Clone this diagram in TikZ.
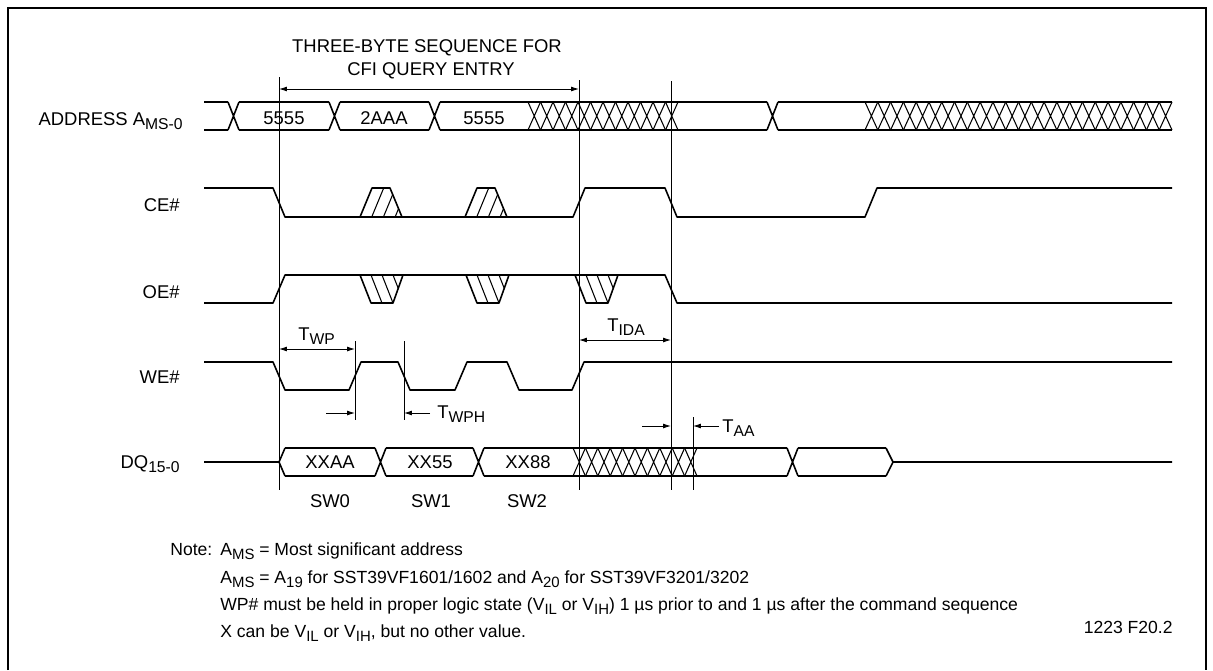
\documentclass[tikz,border=0pt]{standalone}
\usepackage{fontspec}
\usepackage{graphicx}
\setmainfont{Liberation Sans}
\usetikzlibrary{arrows.meta}
% lowered, smaller index text
\def\dn#1{\raisebox{-0.45ex}{\scalebox{0.85}{#1}}}
% flat part of a bus, from #1 to #2, row centre #3
\def\busflat(#1:#2,#3){\draw[sig] (#1,#3-14) -- (#2,#3-14) (#1,#3+14) -- (#2,#3+14);}
% bus change, starting at #1
\def\busx(#1,#2){\draw[sig] (#1,#2-14) -- (#1+11,#2+14) (#1,#2+14) -- (#1+11,#2-14);}
% don't care region from #1 to #2 with #4 crossings
\def\busdc(#1:#2,#3:#4){\busflat(#1:#2,#3)
  \pgfmathsetmacro\hp{(#2-#1)/#4}
  \foreach \k in {1,...,#4}{\draw[hatch] (#1+\k*\hp-\hp,#3-14) -- (#1+\k*\hp,#3+14) (#1+\k*\hp-\hp,#3+14) -- (#1+\k*\hp,#3-14);}}
% CE# may go high
\def\ceup(#1){\begin{scope}\clip (#1,217) -- (#1+12,188) -- (#1+30,188) -- (#1+42,217) -- cycle;
  \foreach \s in {11.7,23.4,35.1}{\draw[hatch] (#1+\s,217) -- (#1+\s+12,188);}\end{scope}
  \draw[sig] (#1,217) -- (#1+12,188) -- (#1+30,188) -- (#1+42,217);}
% OE# may go low
\def\oedn(#1){\begin{scope}\clip (#1,275) -- (#1+11,303) -- (#1+33,303) -- (#1+43,275) -- cycle;
  \foreach \s in {11,22,33}{\draw[hatch] (#1+\s,275) -- (#1+\s+11,303);}\end{scope}
  \draw[sig] (#1,275) -- (#1+11,303) -- (#1+33,303) -- (#1+43,275);}

\begin{document}
\begin{tikzpicture}[x=0.02cm,y=-0.02cm,
    sig/.style={line width=0.9pt,line join=round},
    hatch/.style={line width=0.6pt},
    marker/.style={line width=0.5pt},
    dim/.style={line width=0.5pt,>={Latex[length=4.5pt,width=2.8pt]}},
    lbl/.style={font=\fontsize{10.5}{12}\selectfont,inner sep=0pt},
    note/.style={font=\fontsize{10}{11}\selectfont,inner sep=0pt,anchor=base west}]
	\useasboundingbox (0,0) rectangle (1213,670);
	%%%%% FRAME %%%%%
	\draw[line width=1.1pt] (8,670) -- (8,8) -- (1206,8) -- (1206,670);

	%%%%% SIGNAL NAMES %%%%%
	\node[lbl,anchor=base east] (addr) at (183,125) {ADDRESS A\dn{MS-0}};
	\node[lbl,anchor=base east] (ce) at (180,211) {CE\#};
	\node[lbl,anchor=base east] (oe) at (180,298) {OE\#};
	\node[lbl,anchor=base east] (we) at (180,383) {WE\#};
	\node[lbl,anchor=base east] (dq) at (180,468) {DQ\dn{15-0}};

	%%%%% ADDRESS %%%%%
	\busflat(204:228,116)
	\busx(228,116)
	\busflat(239:329,116)
	\busx(329,116)
	\busflat(340:429,116)
	\busx(429,116)
	\busflat(440:528,116)
	\busdc(528:678,116:12)
	\busflat(678:767,116)
	\busx(767,116)
	\busflat(778:865,116)
	\busdc(865:1172,116:24)
	\node[lbl,anchor=base] (a1) at (284,124) {5555};
	\node[lbl,anchor=base] (a2) at (384,124) {2AAA};
	\node[lbl,anchor=base] (a3) at (484,124) {5555};

	%%%%% CE# %%%%%
	\draw[sig] (204,188) -- (273,188) -- (285,217) -- (573,217) -- (585,188) -- (665,188)
		-- (677,217) -- (865,217) -- (877,188) -- (1172,188);
	\ceup(360)
	\ceup(465)

	%%%%% OE# %%%%%
	\draw[sig] (204,303) -- (273,303) -- (285,275) -- (665,275) -- (677,303) -- (1172,303);
	\oedn(360)
	\oedn(466)
	\oedn(575)

	%%%%% WE# %%%%%
	\draw[sig] (204,362) -- (273,362) -- (285,390) -- (349,390) -- (361,362) -- (398,362)
		-- (410,390) -- (455,390) -- (467,362) -- (507,362) -- (519,390) -- (572,390)
		-- (584,362) -- (1172,362);

	%%%%% DQ %%%%%
	\draw[sig] (204,462) -- (279,462) (285,448) -- (279,462) -- (285,476);
	\busflat(285:375,462)
	\busx(375,462)
	\busflat(386:473,462)
	\busx(473,462)
	\busflat(484:573,462)
	\busdc(573:697,462:10)
	\busflat(697:787,462)
	\busx(787,462)
	\busflat(798:886,462)
	\draw[sig] (886,448) -- (893,462) -- (886,476) (893,462) -- (1172,462);
	\node[lbl,anchor=base] (d1) at (330,468) {XXAA};
	\node[lbl,anchor=base] (d2) at (430,468) {XX55};
	\node[lbl,anchor=base] (d3) at (528,468) {XX88};
	\node[lbl,anchor=base] (sw0) at (330,507) {SW0};
	\node[lbl,anchor=base] (sw1) at (431,507) {SW1};
	\node[lbl,anchor=base] (sw2) at (527,507) {SW2};

	%%%%% MARKERS %%%%%
	\draw[marker] (279,77) -- (279,490);
	\draw[marker] (579,80) -- (579,490);
	\draw[marker] (671,81) -- (671,490);
	\draw[marker] (693,417) -- (693,490);
	\draw[marker] (355,341) -- (355,420);
	\draw[marker] (404,341) -- (404,420);

	%%%%% TIMINGS %%%%%
	\coordinate (seqL) at (279,89);
	\coordinate (seqR) at (579,89);
	\coordinate (wpL) at (279,349);
	\coordinate (wpR) at (355,349);
	\coordinate (wphA) at (326,413);
	\coordinate (wphB) at (355,413);
	\coordinate (wphC) at (430,413);
	\coordinate (wphD) at (404,413);
	\coordinate (idaL) at (579,340);
	\coordinate (idaR) at (671,340);
	\coordinate (aaA) at (642,426);
	\coordinate (aaB) at (671,426);
	\coordinate (aaC) at (719,426);
	\coordinate (aaD) at (693,426);
	\draw[dim,<->] (seqL) -- (seqR);
	\draw[dim,<->] (wpL) -- (wpR);
	\draw[dim,->] (wphA) -- (wphB);
	\draw[dim,->] (wphC) -- (wphD);
	\draw[dim,<->] (idaL) -- (idaR);
	\draw[dim,->] (aaA) -- (aaB);
	\draw[dim,->] (aaC) -- (aaD);
	\node[lbl,anchor=base] (seq1) at (427,52) {THREE-BYTE SEQUENCE FOR};
	\node[lbl,anchor=base] (seq2) at (431,75) {CFI QUERY ENTRY};
	\node[lbl,anchor=base west] (twp) at (298,340) {T\dn{WP}};
	\node[lbl,anchor=base west] (twph) at (437,418) {T\dn{WPH}};
	\node[lbl,anchor=base west] (tida) at (607,331) {T\dn{IDA}};
	\node[lbl,anchor=base west] (taa) at (722,432) {T\dn{AA}};

	%%%%% NOTES %%%%%
	\node[note] (n0) at (170,555) {Note:};
	\node[note] (n1) at (220,555) {A\dn{MS} = Most significant address};
	\node[note] (n2) at (220,583) {A\dn{MS} = A\dn{19} for SST39VF1601/1602 and A\dn{20} for SST39VF3201/3202};
	\node[note] (n3) at (220,610) {WP\# must be held in proper logic state (V\dn{IL} or V\dn{IH}) 1 µs prior to and 1 µs after the command sequence};
	\node[note] (n4) at (220,637) {X can be V\dn{IL} or V\dn{IH}, but no other value.};
	\node[note,anchor=base east] (fig) at (1173,633) {1223 F20.2};
\end{tikzpicture}
\end{document}
